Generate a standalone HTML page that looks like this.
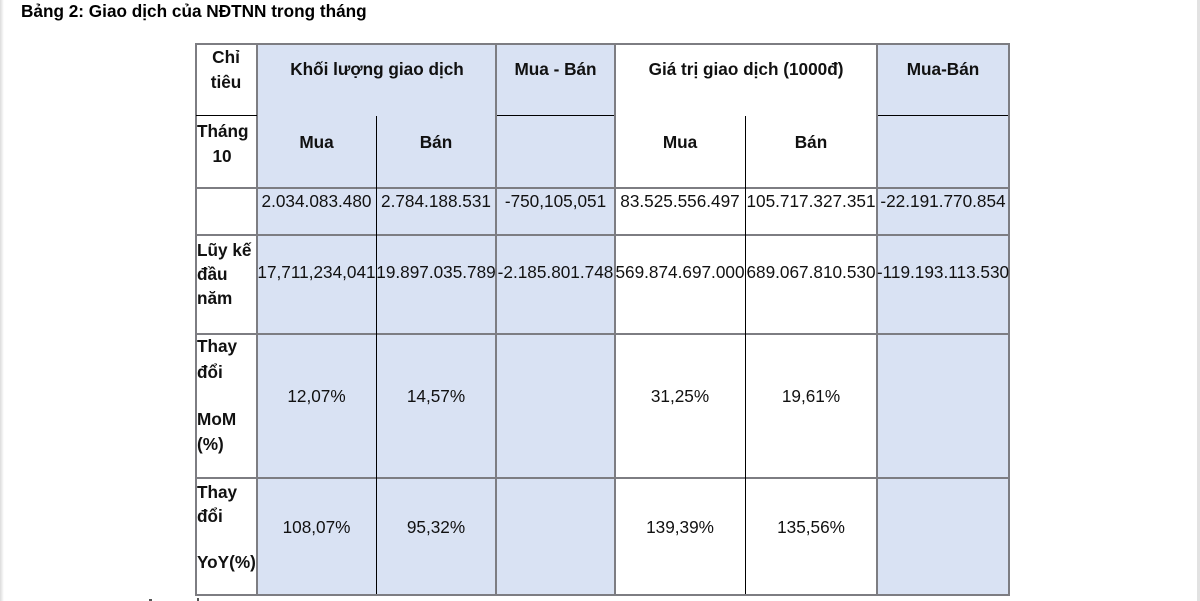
<!DOCTYPE html>
<html>
<head>
<meta charset="utf-8">
<style>
  html, body { margin:0; padding:0; }
  body { width:1200px; height:601px; position:relative; overflow:hidden; background:#fff;
         font-family:"Liberation Sans", Arial, sans-serif; color:#111; }
  .t { position:absolute; white-space:nowrap; font-size:17.2px; line-height:20px; }
  .c { transform:translateX(-50%); }
  .b { font-weight:bold; }
  .fill { position:absolute; background:#d9e2f3; }
  .g { position:absolute; background:#7d7d82; }
  .k { position:absolute; background:#000; }
</style>
</head>
<body>
<!-- edge strips -->
<div style="position:absolute;left:0;top:0;width:4px;height:601px;background:linear-gradient(to right,#dcdcdc,#fff);"></div>
<div style="position:absolute;left:1197px;top:0;width:3px;height:601px;background:#e2e2e2;"></div>

<div class="t b" style="left:21px;top:1px;color:#000;">Bảng 2: Giao dịch của NĐTNN trong tháng</div>

<!-- fills -->
<div class="fill" style="left:257px;top:43px;width:358px;height:552px;"></div>
<div class="fill" style="left:877px;top:43px;width:132px;height:552px;"></div>

<!-- gray lines -->
<div class="g" style="left:195px;top:43px;width:815px;height:2px;"></div>
<div class="g" style="left:195px;top:187px;width:815px;height:2px;"></div>
<div class="g" style="left:195px;top:234px;width:815px;height:2px;"></div>
<div class="g" style="left:195px;top:333px;width:815px;height:2px;"></div>
<div class="g" style="left:195px;top:477px;width:815px;height:2px;"></div>
<div class="g" style="left:195px;top:594px;width:815px;height:2px;"></div>
<div class="g" style="left:195px;top:43px;width:2px;height:553px;"></div>
<div class="g" style="left:256px;top:43px;width:2px;height:553px;"></div>
<div class="g" style="left:495px;top:43px;width:2px;height:553px;"></div>
<div class="g" style="left:614px;top:43px;width:2px;height:553px;"></div>
<div class="g" style="left:876px;top:43px;width:2px;height:553px;"></div>
<div class="g" style="left:1008px;top:43px;width:2px;height:553px;"></div>

<!-- black thin lines -->
<div class="k" style="left:196px;top:115px;width:61px;height:1px;"></div>
<div class="k" style="left:497px;top:115px;width:117px;height:1px;"></div>
<div class="k" style="left:878px;top:115px;width:130px;height:1px;"></div>
<div class="k" style="left:376px;top:116px;width:1px;height:478px;"></div>
<div class="k" style="left:745px;top:116px;width:1px;height:478px;"></div>

<!-- header row -->
<div class="t b c" style="left:226px;top:47px;">Chỉ</div>
<div class="t b c" style="left:226px;top:72px;">tiêu</div>
<div class="t b c" style="left:377px;top:59px;">Khối lượng giao dịch</div>
<div class="t b c" style="left:555.5px;top:59px;">Mua - Bán</div>
<div class="t b c" style="left:746px;top:59px;">Giá trị giao dịch (1000đ)</div>
<div class="t b c" style="left:943px;top:59px;">Mua-Bán</div>

<!-- row 2 -->
<div class="t b" style="left:197px;top:121px;">Tháng</div>
<div class="t b c" style="left:222px;top:146px;">10</div>
<div class="t b c" style="left:316.5px;top:132px;">Mua</div>
<div class="t b c" style="left:436px;top:132px;">Bán</div>
<div class="t b c" style="left:680px;top:132px;">Mua</div>
<div class="t b c" style="left:811px;top:132px;">Bán</div>

<!-- row 3 -->
<div class="t c" style="left:316.5px;top:191px;">2.034.083.480</div>
<div class="t c" style="left:436px;top:191px;">2.784.188.531</div>
<div class="t c" style="left:555.5px;top:191px;">-750,105,051</div>
<div class="t c" style="left:680px;top:191px;">83.525.556.497</div>
<div class="t c" style="left:811px;top:191px;">105.717.327.351</div>
<div class="t c" style="left:943px;top:191px;">-22.191.770.854</div>

<!-- row 4 -->
<div class="t b" style="left:197px;top:240px;">Lũy kế</div>
<div class="t b" style="left:197px;top:264px;">đầu</div>
<div class="t b" style="left:197px;top:288px;">năm</div>
<div class="t c" style="left:316.5px;top:262px;">17,711,234,041</div>
<div class="t c" style="left:436px;top:262px;">19.897.035.789</div>
<div class="t c" style="left:555.5px;top:262px;">-2.185.801.748</div>
<div class="t c" style="left:680px;top:262px;">569.874.697.000</div>
<div class="t c" style="left:811px;top:262px;">689.067.810.530</div>
<div class="t c" style="left:943px;top:262px;">-119.193.113.530</div>

<!-- row 5 -->
<div class="t b" style="left:197px;top:336px;">Thay</div>
<div class="t b" style="left:197px;top:362px;">đổi</div>
<div class="t b" style="left:197px;top:409px;">MoM</div>
<div class="t b" style="left:197px;top:434px;">(%)</div>
<div class="t c" style="left:316.5px;top:386px;">12,07%</div>
<div class="t c" style="left:436px;top:386px;">14,57%</div>
<div class="t c" style="left:680px;top:386px;">31,25%</div>
<div class="t c" style="left:811px;top:386px;">19,61%</div>

<!-- row 6 -->
<div class="t b" style="left:197px;top:482px;">Thay</div>
<div class="t b" style="left:197px;top:506px;">đổi</div>
<div class="t b" style="left:197px;top:552px;">YoY(%)</div>
<div class="t c" style="left:316.5px;top:517px;">108,07%</div>
<div class="t c" style="left:436px;top:517px;">95,32%</div>
<div class="t c" style="left:680px;top:517px;">139,39%</div>
<div class="t c" style="left:811px;top:517px;">135,56%</div>

<!-- bottom glyph fragments -->
<div style="position:absolute;left:149px;top:599px;width:3px;height:2px;background:#555;"></div>
<div style="position:absolute;left:197px;top:598px;width:2px;height:3px;background:#555;"></div>
</body>
</html>
